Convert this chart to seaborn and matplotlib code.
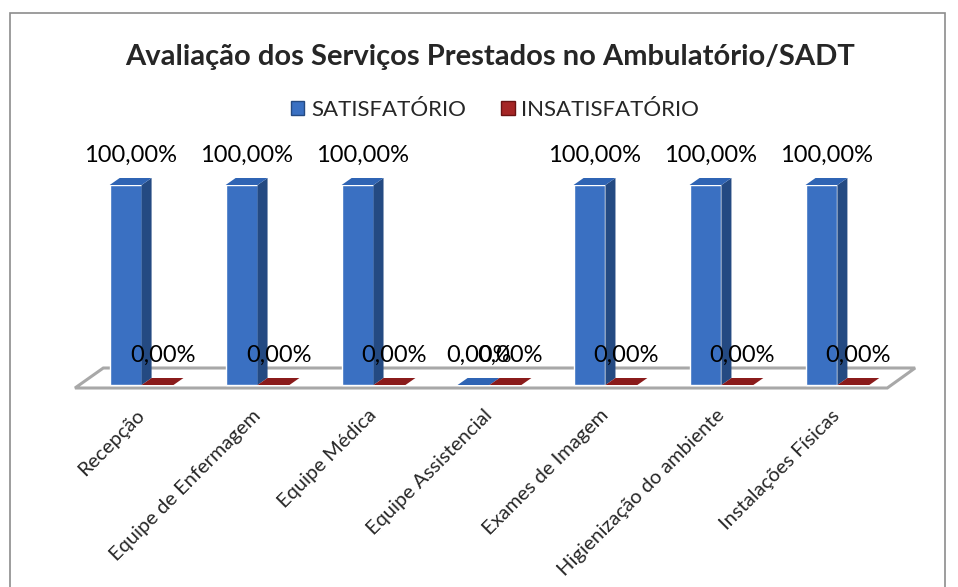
import numpy as np
import pandas as pd
import seaborn as sns
import matplotlib
matplotlib.use('Agg')
from matplotlib import pyplot as plt
from matplotlib.patches import Polygon, Rectangle, Patch

# dados do grafico
categorias = ['Recepção', 'Equipe de Enfermagem', 'Equipe Médica', 'Equipe Assistencial',
              'Exames de Imagem', 'Higienização do ambiente', 'Instalações Físicas']
series = ['SATISFATÓRIO', 'INSATISFATÓRIO']
satisfatorio = [100, 100, 100, 0, 100, 100, 100]
insatisfatorio = [0, 0, 0, 0, 0, 0, 0]

df = pd.DataFrame({
    'categoria': categorias * 2,
    'serie': [series[0]] * len(categorias) + [series[1]] * len(categorias),
    'valor': satisfatorio + insatisfatorio,
})

sns.set_theme(style='white')
plt.rcParams['font.family'] = ['Lato', 'DejaVu Sans']

fig = plt.figure(figsize=(9.58, 5.87), dpi=100)
ax = fig.add_axes([72 / 958, 202 / 587, 835 / 958, 200 / 587])

frente = {'SATISFATÓRIO': '#3a70c2', 'INSATISFATÓRIO': '#a52525'}
lado = {'SATISFATÓRIO': '#244a82', 'INSATISFATÓRIO': '#6a1212'}
topo = {'SATISFATÓRIO': '#2f64b4', 'INSATISFATÓRIO': '#8a1b1b'}

sns.barplot(data=df, x='categoria', y='valor', hue='serie', palette=frente,
            width=0.55, saturation=1, legend=False, ax=ax, zorder=3)

ax.set_xlim(-0.6, 6.6)
ax.set_ylim(0, 100)

# profundidade "3d" em unidades de dados (px / escala)
dx = 10 / 116
dy = 3.5

# piso
piso = Polygon([(-0.574, -1.5), (-0.33, 8.5), (6.67, 8.5), (6.43, -1.5)],
               closed=True, facecolor='white', edgecolor='#a8a8a8', lw=2.2,
               zorder=1, clip_on=False)
ax.add_patch(piso)

for cont, serie in zip(ax.containers, series):
    for bar in cont:
        x0 = bar.get_x()
        x1 = x0 + bar.get_width()
        h = bar.get_height()
        bar.set_clip_on(False)
        ax.add_patch(Polygon([(x1, 0), (x1 + dx, dy), (x1 + dx, h + dy), (x1, h)],
                             closed=True, facecolor=lado[serie], edgecolor='none',
                             zorder=3, clip_on=False))
        ax.add_patch(Polygon([(x0, h), (x0 + dx, h + dy), (x1 + dx, h + dy), (x1, h)],
                             closed=True, facecolor=topo[serie], edgecolor='none',
                             zorder=3, clip_on=False))
        ax.text((x0 + x1) / 2 + dx / 2, h + 15, f'{h:.2f}%'.replace('.', ','),
                ha='center', va='center', fontsize=17, color='black', zorder=5,
                clip_on=False)

for s in ax.spines.values():
    s.set_visible(False)
ax.set_yticks([])
ax.set_xlabel('')
ax.set_ylabel('')
ax.tick_params(axis='x', length=0, pad=20)
ax.set_xticks(range(len(categorias)))
ax.set_xticklabels(categorias, rotation=45, ha='right', va='center',
                   rotation_mode='anchor', fontsize=14.5)
ax.patch.set_visible(False)

fig.text(490 / 958, 1 - 57 / 587, 'Avaliação dos Serviços Prestados no Ambulatório/SADT',
         ha='center', va='center', fontsize=21, fontweight='bold')

handles = [Patch(facecolor=frente[s], edgecolor=lado[s]) for s in series]
fig.legend(handles, series, loc='center', bbox_to_anchor=(495 / 958, 1 - 110 / 587),
           ncol=2, frameon=False, fontsize=16, handlelength=0.6, handleheight=0.6,
           columnspacing=1.6, handletextpad=0.3)

fig.patches.append(Rectangle((10 / 958, -0.05), 935 / 958, 1.05 - 13 / 587,
                             transform=fig.transFigure, fill=False,
                             edgecolor='#8c8c8c', lw=1.2))

fig.savefig('out.png', dpi=100)
